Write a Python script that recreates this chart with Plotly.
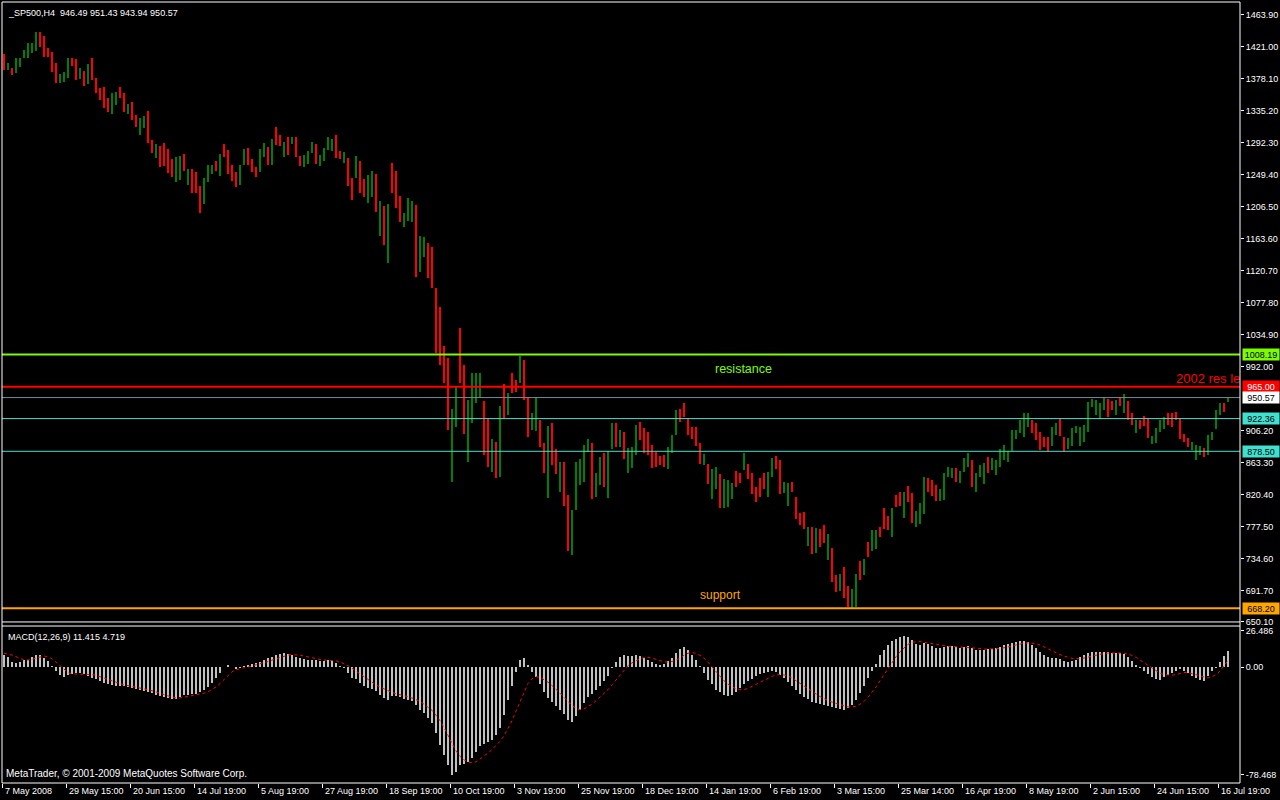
import plotly.graph_objects as go

# ---------------- data (one sample = two H4 bars) ----------------
highs = [1411,1399,1392,1406,1406,1417,1426,1426,1441,1441,
         1435,1419,1414,1399,1384,1387,1406,1406,1405,1392,
         1388,1398,1406,1379,1366,1367,1352,1359,1360,1367,
         1359,1344,1347,1329,1325,1328,1335,1296,1291,1288,
         1292,1284,1270,1273,1274,1277,1257,1257,1253,1234,
         1245,1262,1262,1268,1277,1291,1283,1262,1253,1262,
         1284,1285,1270,1260,1284,1292,1287,1297,1313,1303,
         1293,1300,1300,1300,1274,1276,1281,1293,1291,1276,
         1285,1300,1297,1303,1281,1280,1272,1245,1274,1268,
         1244,1249,1254,1250,1214,1207,1210,1265,1254,1221,
         1198,1218,1214,1209,1167,1166,1158,1152,1098,1072,
         1020,1004,935,965,1044,994,947,983,983,983,
         946,922,895,891,939,969,957,984,974,1006,
         1001,951,930,951,920,890,912,916,882,864,
         864,820,800,864,868,887,895,890,849,871,
         876,879,916,916,907,904,883,884,914,918,
         910,904,887,878,872,874,884,900,934,935,
         943,923,911,911,890,875,862,855,858,848,
         842,840,836,852,849,876,862,849,831,843,
         849,851,870,872,867,837,836,837,817,796,
         797,777,777,776,774,780,768,749,713,714,
         723,698,694,714,731,734,757,773,773,777,
         803,792,803,820,824,824,832,823,799,809,
         844,843,840,833,828,849,858,856,856,852,
         870,876,867,849,860,863,871,870,867,882,
         887,879,907,907,920,930,930,920,916,904,
         898,898,911,916,923,898,896,910,912,911,
         914,945,949,947,943,951,949,946,947,951,
         955,946,930,920,920,926,923,899,910,920,
         925,930,930,931,923,902,896,891,887,886,
         883,900,904,934,943,943,951]
lows = [1390,1390,1383,1386,1394,1406,1406,1413,1415,1421,
        1407,1407,1387,1372,1372,1374,1379,1395,1376,1378,
        1368,1371,1376,1359,1350,1339,1333,1331,1343,1352,
        1334,1331,1323,1313,1303,1312,1292,1278,1272,1260,
        1261,1252,1246,1240,1242,1254,1236,1225,1225,1198,
        1210,1240,1250,1254,1248,1273,1250,1241,1233,1236,
        1262,1262,1253,1246,1253,1273,1262,1262,1289,1288,
        1273,1276,1291,1273,1261,1260,1264,1278,1264,1261,
        1268,1282,1281,1272,1270,1265,1234,1215,1245,1225,
        1219,1211,1219,1199,1167,1155,1131,1225,1205,1186,
        1179,1187,1186,1112,1119,1139,1111,1098,1010,994,
        970,907,837,911,970,902,864,916,943,951,
        874,858,851,843,844,923,927,957,958,970,
        947,898,907,906,884,849,816,860,848,824,
        805,745,740,800,833,837,878,815,817,833,
        831,816,882,884,884,868,849,856,874,894,
        876,874,856,858,860,858,855,876,900,918,
        925,900,895,886,862,860,835,815,828,803,
        803,804,815,831,836,853,842,821,811,817,
        828,817,844,855,821,823,805,824,788,780,
        774,752,741,742,750,756,733,703,690,691,
        682,670,667,670,706,713,737,745,748,764,
        774,773,764,804,805,789,811,782,777,781,
        795,824,819,812,812,813,844,843,837,836,
        851,857,831,824,844,835,849,853,847,858,
        867,864,879,895,903,898,911,903,894,880,
        884,878,886,900,899,878,882,886,903,886,
        891,904,938,927,922,934,925,934,927,939,
        930,921,914,903,908,912,896,888,890,904,
        909,914,911,921,895,891,884,880,867,874,
        871,874,894,909,927,931,944]
# g = bullish bar, r = bearish bar
dirs = ("rgrggggggr" "rrrrgggrrg" "rgrrrrrggr" "rgrrggrrgr" "rrrggrgrrr"
        "gggrgrrrrg" "grrrggrgrr" "grgrrgggrg" "gggrrgrrgr" "rggrgrgrrr"
        "gggrggrrrr" "rrggrrgggg" "rrgrgrgrrg" "rrggrrgrrg" "rrgggggrgg"
        "rggrgrgggr" "rrrrrrgggr" "rrrrrgrggr" "gggrrgrrrr" "rggrrggrrr"
        "rgrgrrgrrg" "rrggrgrggr" "rrgrrgrrgg" "grrrggggrg" "ggrgggrggg"
        "gggggggrrr" "rrggrrgggg" "ggggggrrgr" "grrgrrrggg" "grrrrrrggg"
        "rggggrg")

# MACD(12,26,9) main line (histogram) and signal, one value per sample
macd_hist = [8.7,7.3,3.6,2.9,3.6,5.1,5.1,7.3,8.7,8.7,
             6.5,4.4,0.7,-2.9,-5.8,-7.3,-5.8,-5.1,-4.4,-4.4,
             -5.1,-6.5,-8.0,-8.7,-10.2,-11.6,-12.4,-13.1,-13.8,-13.8,
             -13.8,-14.5,-15.3,-16.0,-16.7,-17.4,-18.2,-18.9,-20.3,-21.1,
             -21.8,-22.5,-23.3,-23.3,-21.8,-20.3,-20.3,-19.6,-19.6,-18.2,
             -16.7,-14.5,-11.6,-8.0,-4.4,0.0,1.5,0.0,-1.5,-0.7,
             0.7,1.5,2.2,2.9,3.6,5.1,6.5,7.3,8.7,9.4,
             10.2,9.4,8.7,7.3,6.5,5.8,5.1,5.1,5.1,4.4,
             4.4,5.1,4.4,2.9,0.7,-0.7,-4.4,-8.0,-8.7,-11.6,
             -13.8,-15.3,-16.0,-17.4,-20.3,-22.5,-24.0,-21.1,-21.1,-21.8,
             -23.3,-24.0,-24.7,-27.6,-31.2,-33.4,-37.1,-40.7,-48.0,-56.7,
             -64.0,-71.2,-78.5,-76.3,-71.2,-70.5,-69.0,-66.1,-61.8,-57.4,
             -56.0,-54.5,-53.1,-49.4,-44.3,-34.9,-24.0,-13.8,-3.6,5.1,
             6.5,1.5,-3.6,-7.3,-12.4,-18.2,-22.5,-25.4,-28.3,-31.2,
             -34.2,-38.5,-40.0,-35.6,-31.2,-26.2,-21.8,-19.6,-16.7,-13.8,
             -10.2,-6.5,-0.7,3.6,7.3,8.7,8.0,8.0,8.7,8.0,
             6.5,5.1,3.6,2.2,1.5,2.2,4.4,6.5,10.2,13.1,
             14.5,12.4,8.7,5.1,0.7,-4.4,-9.4,-12.4,-16.7,-18.2,
             -20.3,-21.1,-20.3,-18.2,-15.3,-12.4,-10.2,-8.7,-6.5,-5.1,
             -4.4,-3.6,-2.9,-3.6,-5.8,-8.0,-10.9,-13.8,-16.7,-19.6,
             -21.8,-23.3,-25.4,-26.2,-26.9,-27.6,-28.3,-29.1,-29.8,-30.5,
             -31.2,-29.8,-27.6,-24.0,-18.9,-13.8,-8.0,-2.9,2.2,8.7,
             12.4,16.0,18.9,20.3,21.8,22.5,21.8,19.6,16.7,16.0,
             17.4,16.7,15.3,13.8,13.8,14.5,15.3,15.3,14.5,13.8,
             14.5,15.3,13.8,12.4,12.4,12.4,13.1,13.1,13.8,14.5,
             16.0,16.7,17.4,18.2,18.9,18.9,18.2,16.0,13.8,10.9,
             8.7,7.3,6.5,6.5,5.8,4.4,3.6,4.4,5.1,7.3,
             8.7,10.2,10.9,10.9,10.9,10.9,10.9,10.2,10.2,10.2,
             9.4,7.3,4.4,1.5,-0.7,-2.9,-5.1,-7.3,-8.7,-9.4,
             -7.3,-5.8,-4.4,-2.9,-1.5,-2.9,-4.4,-6.5,-8.0,-9.4,
             -10.2,-6.5,-2.9,-0.7,3.6,8.0,11.415]
macd_signal = [10,9.5,8.7,7.5,6,5.1,5.1,5.5,6.5,7.5,
               8,7.5,6,3.5,1,-1.5,-4,-5,-5.1,-5,
               -5,-5.1,-5.5,-6,-7,-8.5,-9.5,-10.5,-11.5,-12.4,
               -13,-13.5,-14,-14.5,-15,-15.8,-16.5,-17.2,-18,-19,
               -20,-21,-21.8,-22.5,-22.5,-22,-21.5,-21,-20.5,-20,
               -19,-18,-16.5,-14.5,-12,-9,-6,-3.5,-2,-1,
               -0.5,0,0.7,1.5,2.2,3,4,5,6,7,
               8,8.7,9,9,8.5,8,7.3,6.5,6,5.5,
               5.1,5,4.8,4.5,3.8,2.5,1,-1,-3,-5,
               -7.3,-9.5,-11.5,-13,-14.5,-16,-17.5,-18.5,-19.5,-20,
               -20.5,-21.5,-22.5,-23.5,-25,-27,-29,-31.5,-35,-39,
               -44,-50,-56,-61,-65,-67.5,-69,-69.5,-69,-67,
               -65,-62.5,-60,-57,-54,-50,-45,-39,-32,-25,
               -18,-12,-8.5,-7,-7.5,-9,-11,-13.5,-16,-19,
               -22,-25,-28,-30,-31,-30.5,-29,-27,-24.5,-22,
               -19.5,-16.5,-13,-9.5,-5.5,-2,1,3,4.8,6,
               6.8,7,6.5,5.5,4.5,3.8,3.6,4,5.1,6.5,
               8.5,10,10.5,10,8.5,6.5,3.5,0,-3.5,-7,
               -10,-12.5,-14.5,-16,-16.5,-16.5,-15.5,-14,-12.5,-11,
               -9.5,-8,-6.8,-5.8,-5.5,-5.8,-6.5,-8,-10,-12,
               -14,-16,-18,-20,-21.5,-23,-24.5,-25.5,-26.5,-27.5,
               -28.5,-29,-29,-28.5,-27,-25,-22,-18.5,-14.5,-10,
               -5.5,-1,3.5,7.5,11,14,16.5,18,18.5,18.5,
               18,17.5,17,16.2,15.5,15,15,15,14.8,14.5,
               14.5,14.5,14.3,14,13.5,13,13,13,13.2,13.5,
               14,14.7,15.3,16,16.7,17.3,17.6,17.5,17,16,
               14.5,13,11.5,10,9,8,7,6.3,6,6,
               6.5,7.3,8,8.7,9.3,9.8,10.2,10.3,10.3,10.2,
               10,9.5,8.5,7,5,3,1,-1,-3,-4.5,
               -5.5,-6,-6,-5.5,-4.5,-4,-4,-4.5,-5.5,-6.5,
               -7.5,-8,-7,-5.5,-3,0.5,4.719]

date_labels = ["7 May 2008", "29 May 15:00", "20 Jun 15:00", "14 Jul 19:00", "5 Aug 19:00",
               "27 Aug 19:00", "18 Sep 19:00", "10 Oct 19:00", "3 Nov 19:00", "25 Nov 19:00",
               "18 Dec 19:00", "14 Jan 19:00", "6 Feb 19:00", "3 Mar 15:00", "25 Mar 14:00",
               "16 Apr 19:00", "8 May 19:00", "2 Jun 15:00", "24 Jun 15:00", "16 Jul 19:00"]
price_ticks = [1463.90, 1421.00, 1378.10, 1335.20, 1292.30, 1249.40, 1206.50, 1163.60,
               1120.70, 1077.80, 1034.90, 992.00, 906.20, 863.30, 820.40, 777.50,
               734.60, 691.70, 650.10]
macd_ticks = [26.486, 0.0, -78.468]
macd_ticktext = ["26.486", "0.00", "-78.468"]

levels = [1008.19, 965.00, 950.57, 922.36, 878.50, 668.20]
last_bar = [946.49, 951.43, 943.94, 950.57]
macd_last = [11.415, 4.719]

# ---------------- styles ----------------
FONT = "Liberation Sans, Arial, sans-serif"
FS = 9
UP, DOWN = "#008000", "#FF0000"
level_style = [
    dict(color="#7CFC00", width=2, box="#7CFC00", txt="black"),
    dict(color="#FF0000", width=2, box="#FF0000", txt="white"),
    dict(color="#778899", width=1, box="#FFFFFF", txt="black"),
    dict(color="#40E0D0", width=1, box="#40E0D0", txt="black"),
    dict(color="#40E0D0", width=1, box="#40E0D0", txt="black"),
    dict(color="#FFA500", width=2, box="#FFA500", txt="black"),
]

n = len(highs)
xs = [1 + 2 * j for j in range(n)]          # sample j spans H4 bars 2j and 2j+1
up = [j for j in range(n) if dirs[j] == "g"]
dn = [j for j in range(n) if dirs[j] == "r"]

fig = go.Figure()
for sel, col in ((up, UP), (dn, DOWN)):
    fig.add_trace(go.Bar(
        x=[xs[j] for j in sel], y=[highs[j] - lows[j] for j in sel], base=[lows[j] for j in sel],
        width=1, marker=dict(color=col, line=dict(width=0)), xaxis="x", yaxis="y",
        hoverinfo="skip"))

fig.add_trace(go.Bar(x=xs, y=macd_hist, width=1, marker=dict(color="#C0C0C0", line=dict(width=0)),
                     xaxis="x", yaxis="y2", hoverinfo="skip"))
fig.add_trace(go.Scatter(x=xs, y=macd_signal, mode="lines",
                         line=dict(color="#FF0000", width=1, dash="3px,3px"),
                         xaxis="x", yaxis="y2", hoverinfo="skip"))

# text object anchored in the chart, clipped by the right edge as in the terminal
fig.add_trace(go.Scatter(x=[587], y=[975], mode="text", text=["2002 res level"], textposition="middle right",
                         textfont=dict(color="#FF0000", size=13, family=FONT), cliponaxis=True,
                         xaxis="x", yaxis="y", hoverinfo="skip"))

shapes = []
for lv, st in zip(levels, level_style):
    shapes.append(dict(type="line", xref="paper", x0=0, x1=1, yref="y", y0=lv, y1=lv,
                       line=dict(color=st["color"], width=st["width"]), layer="above"))
# frames
W = dict(color="white", width=1)
PRICE_BOTTOM = 0.2062
MACD_TOP = 0.2010
for (x0, y0, x1, y1) in [(0, 0, 0, 1), (1, 0, 1, 1), (0, 1, 1, 1), (0, 0, 1, 0),
                         (0, PRICE_BOTTOM, 1, PRICE_BOTTOM), (0, MACD_TOP, 1, MACD_TOP)]:
    shapes.append(dict(type="line", xref="paper", yref="paper", x0=x0, y0=y0, x1=x1, y1=y1, line=W))

ann = []
for lv, st in zip(levels, level_style):
    ann.append(dict(xref="paper", x=1, xanchor="left", xshift=2, yref="y", y=lv, yanchor="middle",
                    text=f"{lv:.2f}", showarrow=False, bgcolor=st["box"], width=36, height=11,
                    borderpad=0, font=dict(color=st["txt"], size=FS, family=FONT)))
ann.append(dict(xref="paper", yref="paper", x=0, y=1, xanchor="left", yanchor="top", xshift=4, yshift=-4,
                text="_SP500,H4  " + " ".join(f"{v:.2f}" for v in last_bar), showarrow=False,
                font=dict(color="white", size=FS, family=FONT)))
ann.append(dict(xref="paper", yref="y2 domain", x=0, y=1, xanchor="left", yanchor="top", xshift=4, yshift=-4,
                text="MACD(12,26,9) " + f"{macd_last[0]:.3f} {macd_last[1]:.3f}", showarrow=False,
                font=dict(color="white", size=FS, family=FONT)))
ann.append(dict(xref="paper", yref="y2 domain", x=0, y=0, xanchor="left", yanchor="bottom", xshift=2, yshift=2,
                text="MetaTrader, © 2001-2009 MetaQuotes Software Corp.", showarrow=False,
                font=dict(color="white", size=10, family=FONT)))
ann.append(dict(x=370.5, y=989, xref="x", yref="y", text="resistance", showarrow=False,
                font=dict(color="#7CFC00", size=12.5, family=FONT)))
ann.append(dict(x=359, y=686, xref="x", yref="y", text="support", showarrow=False,
                font=dict(color="#FFA500", size=12, family=FONT)))
for k, lab in enumerate(date_labels):
    ann.append(dict(x=32 * k, xref="x", y=0, yref="paper", xanchor="left", yanchor="top", xshift=1, yshift=-1,
                    text=lab, showarrow=False, font=dict(color="white", size=FS, family=FONT)))

fig.update_layout(
    width=1280, height=800, paper_bgcolor="black", plot_bgcolor="black",
    margin=dict(l=2, r=40, t=2, b=17), showlegend=False, barmode="overlay", bargap=0,
    shapes=shapes, annotations=ann,
    xaxis=dict(range=[0, 619], anchor="y2", showgrid=False, zeroline=False, showline=False,
               ticks="outside", ticklen=4, tickcolor="white", tickwidth=1,
               tickvals=[32 * k for k in range(len(date_labels))], showticklabels=False),
    yaxis=dict(domain=[PRICE_BOTTOM, 1], range=[649.7, 1480.9], side="right", anchor="x",
               showgrid=False, zeroline=False, showline=False,
               tickvals=price_ticks, ticktext=[f"{v:.2f}" for v in price_ticks],
               ticks="outside", ticklen=3, tickcolor="white",
               tickfont=dict(color="white", size=FS, family=FONT)),
    yaxis2=dict(domain=[0, MACD_TOP], range=[-84.3, 29.8], side="right", anchor="x",
                showgrid=False, zeroline=False, showline=False,
                tickvals=macd_ticks, ticktext=macd_ticktext,
                ticks="outside", ticklen=3, tickcolor="white",
                tickfont=dict(color="white", size=FS, family=FONT)),
)

fig.write_html("out.html", config={"displayModeBar": False},
               post_script="document.body.style.margin='0px';document.body.style.overflow='hidden';")
